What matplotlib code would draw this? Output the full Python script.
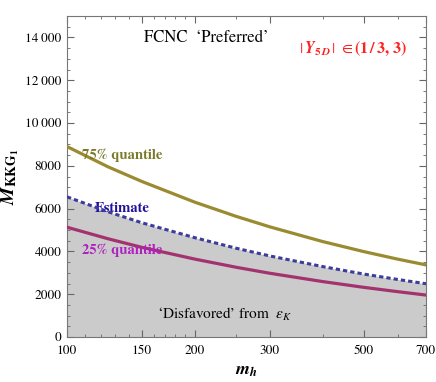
import numpy as np
import matplotlib
matplotlib.use("Agg")
import matplotlib.pyplot as plt
from matplotlib.ticker import FixedLocator, FuncFormatter, NullFormatter

plt.rcParams['font.family'] = ['STIXGeneral', 'DejaVu Serif']
plt.rcParams['mathtext.fontset'] = 'stix'

# data
m_h = [100, 125, 150, 200, 250, 300, 400, 500, 600, 700]
q75 = [8900, 7950, 7270, 6300, 5640, 5150, 4460, 3990, 3640, 3370]
estimate = [6550, 5850, 5340, 4640, 4150, 3790, 3290, 2940, 2690, 2490]
q25 = [5130, 4590, 4190, 3640, 3260, 2980, 2590, 2320, 2120, 1960]
x_ticks = [100, 150, 200, 300, 500, 700]
y_ticks = [0, 2000, 4000, 6000, 8000, 10000, 12000, 14000]

fig = plt.figure(figsize=(4.36, 3.82), dpi=100)
ax = fig.add_axes([0.1537, 0.1178, 0.977 - 0.1537, 0.958 - 0.1178])
ax.set_xscale('log')
ax.set_xlim(100, 700)
ax.set_ylim(0, 15000)

ax.fill_between(m_h, 0, estimate, color='#cbcbcb', lw=0, zorder=1)
ax.plot(m_h, q75, color='#9a8a30', lw=2.3, zorder=3)
ax.plot(m_h, q25, color='#a3336f', lw=2.3, zorder=3)
ax.plot(m_h, estimate, color='#3c3c9c', lw=2.2, dashes=(1.4, 1.0), zorder=4)

ax.xaxis.set_major_locator(FixedLocator(x_ticks))
ax.xaxis.set_major_formatter(FuncFormatter(lambda v, p: f"{int(round(v))}"))
ax.xaxis.set_minor_locator(FixedLocator([110, 120, 130, 140, 160, 170, 180, 190,
                                         250, 400, 600]))
ax.xaxis.set_minor_formatter(NullFormatter())

def yfmt(v, p):
    v = int(round(v))
    if v >= 10000:
        return f"{v:,}".replace(",", "\u2009")
    return str(v)

ax.yaxis.set_major_locator(FixedLocator(y_ticks))
ax.yaxis.set_major_formatter(FuncFormatter(yfmt))
ax.yaxis.set_minor_locator(FixedLocator(np.arange(0, 15001, 500)))

ax.tick_params(which='both', direction='in', top=True, right=True,
               color='#666666', labelsize=9.5)
ax.tick_params(axis='x', pad=6)
ax.tick_params(axis='y', pad=4)
ax.tick_params(which='major', length=5, width=0.8)
ax.tick_params(which='minor', length=2.5, width=0.6)
for s in ax.spines.values():
    s.set_color('#777777')
    s.set_linewidth(0.8)

ax.set_xlabel(r'$\mathbfit{m}_{\mathbfit{h}}$', fontsize=13, labelpad=4)
ax.set_ylabel(r'$\mathbfit{M}_{\mathbf{KKG}_{\mathbf{1}}}$', fontsize=14, labelpad=3)

ax.text(213, 13970, "FCNC  \u2018Preferred\u2019", fontsize=12, ha='center', va='center',
        transform=ax.transData)
ax.text(0.797, 0.90, r'$|\,\mathbfit{Y}_{\mathbf{5}\,\mathbfit{D}}\,|\ \in \mathbf{(1\,/\,3,\,3)}$',
        transform=ax.transAxes, fontsize=11.5, color='#ff2020', ha='center', va='center')
ax.text(0.042, 0.565, "75% quantile", transform=ax.transAxes, fontsize=10.5,
        fontweight='bold', color='#7a7a2a', ha='left', va='center')
ax.text(0.078, 0.40, "Estimate", transform=ax.transAxes, fontsize=10.5,
        fontweight='bold', color='#20109a', ha='left', va='center')
ax.text(0.042, 0.27, "25% quantile", transform=ax.transAxes, fontsize=10.5,
        fontweight='bold', color='#b020c0', ha='left', va='center')
ax.text(0.25, 0.07, "\u2018Disfavored\u2019 from  $\\epsilon_K$",
        transform=ax.transAxes, fontsize=11, ha='left', va='center')

fig.savefig("out.png", dpi=100)
